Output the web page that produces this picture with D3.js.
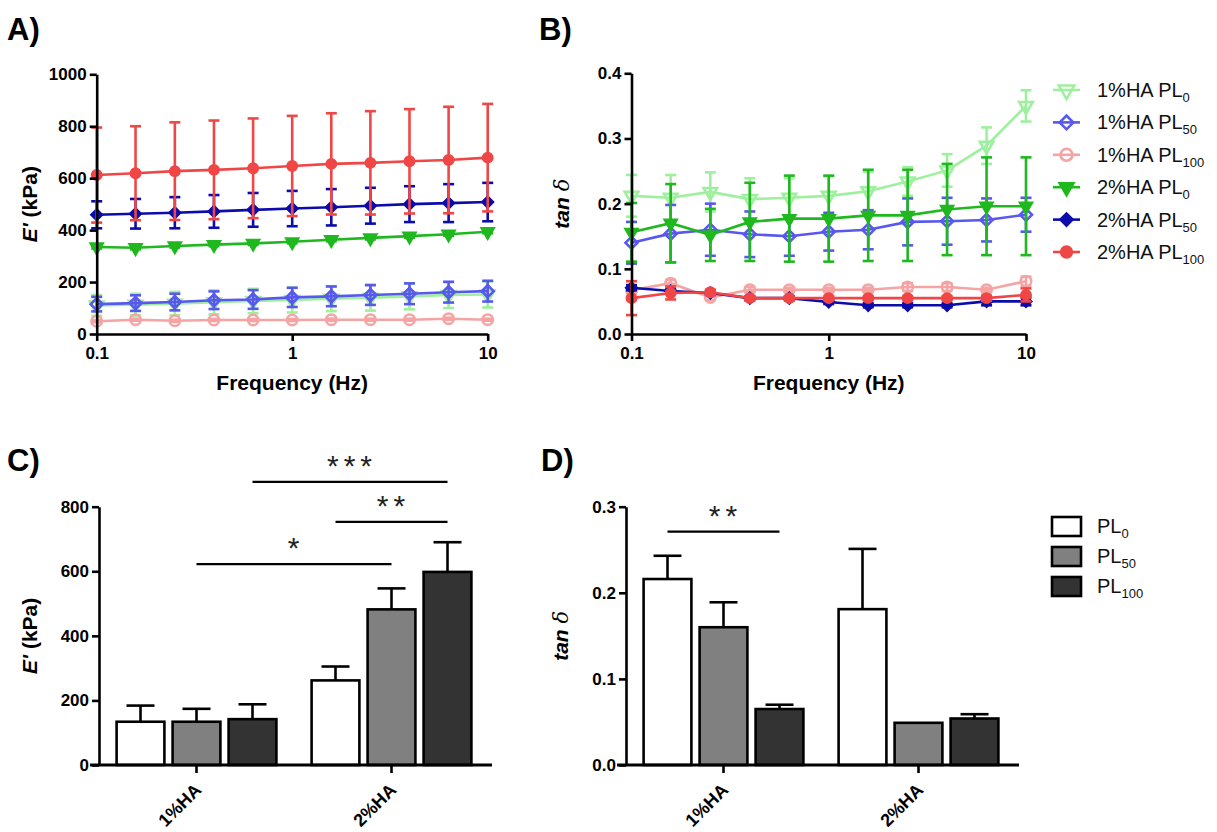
<!DOCTYPE html>
<html><head><meta charset="utf-8">
<script src="https://cdn.jsdelivr.net/npm/d3@7"></script>
<style>body{margin:0;background:#fff}svg{display:block}</style>
</head><body>
<svg id="chart" width="1217" height="832"></svg>
<script>
// ---------------- DATA ----------------
const frequency = [0.1, 0.158, 0.251, 0.398, 0.631, 1, 1.585, 2.512, 3.981, 6.31, 10];
const seriesLabels = ["1%HA PL0", "1%HA PL50", "1%HA PL100", "2%HA PL0", "2%HA PL50", "2%HA PL100"];

// Panel A: E' (kPa) mean / SD
const eMod_1HA_PL0   = [110, 113, 117, 122, 127, 131, 136, 140, 145, 150, 152];
const eModSD_1HA_PL0 = [40, 42, 45, 46, 47, 48, 48, 50, 50, 50, 50];
const eMod_1HA_PL50   = [115, 119, 123, 130, 133, 141, 145, 150, 155, 161, 165];
const eModSD_1HA_PL50 = [28, 30, 32, 34, 36, 37, 38, 38, 40, 40, 40];
const eMod_1HA_PL100   = [49, 55, 51, 54, 54, 54, 55, 55, 55, 59, 55];
const eModSD_1HA_PL100 = [4, 4, 4, 4, 4, 4, 4, 4, 4, 4, 4];
const eMod_2HA_PL0   = [335, 332, 339, 344, 349, 355, 363, 370, 377, 384, 394];
const eModSD_2HA_PL0 = [6, 6, 6, 6, 6, 6, 6, 6, 6, 6, 6];
const eMod_2HA_PL50   = [459, 463, 467, 472, 478, 483, 488, 494, 500, 504, 508];
const eModSD_2HA_PL50 = [52, 57, 60, 63, 65, 68, 70, 69, 69, 73, 74];
const eMod_2HA_PL100   = [612, 619, 627, 632, 638, 647, 655, 659, 665, 670, 679];
const eModSD_2HA_PL100 = [183, 181, 188, 190, 192, 193, 195, 199, 201, 205, 207];

// Panel B: tan delta mean / SD
const tan_1HA_PL0   = [0.212, 0.209, 0.218, 0.207, 0.209, 0.212, 0.219, 0.234, 0.251, 0.289, 0.350];
const tanSD_1HA_PL0 = [0.032, 0.035, 0.030, 0.032, 0.030, 0.030, 0.030, 0.022, 0.025, 0.028, 0.024];
const tan_1HA_PL50   = [0.140, 0.154, 0.160, 0.153, 0.150, 0.157, 0.160, 0.172, 0.173, 0.175, 0.183];
const tanSD_1HA_PL50 = [0.032, 0.044, 0.040, 0.035, 0.030, 0.029, 0.030, 0.036, 0.036, 0.033, 0.026];
const tan_1HA_PL100   = [0.067, 0.078, 0.056, 0.068, 0.068, 0.068, 0.068, 0.072, 0.072, 0.068, 0.081];
const tanSD_1HA_PL100 = [0.004, 0.005, 0.004, 0.004, 0.003, 0.003, 0.003, 0.006, 0.006, 0.003, 0.007];
const tan_2HA_PL0   = [0.156, 0.170, 0.152, 0.172, 0.177, 0.177, 0.182, 0.182, 0.191, 0.196, 0.196];
const tanSD_2HA_PL0 = [0.045, 0.060, 0.040, 0.060, 0.066, 0.066, 0.070, 0.070, 0.070, 0.075, 0.075];
const tan_2HA_PL50   = [0.071, 0.066, 0.063, 0.055, 0.055, 0.049, 0.044, 0.044, 0.044, 0.050, 0.050];
const tanSD_2HA_PL50 = [0.004, 0.003, 0.003, 0.003, 0.003, 0.003, 0.003, 0.003, 0.003, 0.006, 0.006];
const tan_2HA_PL100   = [0.055, 0.063, 0.064, 0.055, 0.055, 0.055, 0.055, 0.055, 0.055, 0.055, 0.060];
const tanSD_2HA_PL100 = [0.026, 0.010, 0.004, 0.003, 0.003, 0.003, 0.003, 0.003, 0.003, 0.004, 0.010];

// Panels C & D: bar charts
const groups = ["1%HA", "2%HA"];
const levels = ["PL0", "PL50", "PL100"];
const barE_PL0 = [134, 262],   barESD_PL0 = [50, 43];
const barE_PL50 = [134, 482],  barESD_PL50 = [40, 65];
const barE_PL100 = [142, 598], barESD_PL100 = [46, 92];
const barTan_PL0 = [0.216, 0.181],   barTanSD_PL0 = [0.027, 0.070];
const barTan_PL50 = [0.160, 0.049],  barTanSD_PL50 = [0.029, 0];
const barTan_PL100 = [0.065, 0.054], barTanSD_PL100 = [0.005, 0.005];

// significance brackets
const sigC = [
  {from: ["1%HA", "PL50"], to: ["2%HA", "PL50"], value: 622, label: "*"},
  {from: ["2%HA", "PL0"], to: ["2%HA", "PL100"], value: 753, label: "**"},
  {from: ["1%HA", "PL100"], to: ["2%HA", "PL100"], value: 877, label: "***"}
];
const sigD = [
  {from: ["1%HA", "PL0"], to: ["1%HA", "PL100"], value: 0.271, label: "**"}
];

const yTicksA = [0, 200, 400, 600, 800, 1000];
const yTicksB = [0, 0.1, 0.2, 0.3, 0.4];
const yTicksC = [0, 200, 400, 600, 800];
const yTicksD = [0, 0.1, 0.2, 0.3];
const xTicksLog = [0.1, 1, 10];

// ---------------- STYLE ----------------
const FONT = "'Liberation Sans', Arial, Helvetica, sans-serif";
const seriesColors = ["#9ef09e", "#5858ee", "#f5a3a3", "#1fb81f", "#0c0cab", "#f04646"];
const seriesShapes = ["tri", "diamond", "circle", "tri", "diamond", "circle"];
const seriesFilled = [false, false, false, true, true, true];
const barFills = ["#ffffff", "#808080", "#333333"];

const svg = d3.select("#chart");

function styleAxis(g, fs) {
  g.selectAll("path, line").attr("stroke", "#000").attr("stroke-width", 2.6);
  g.selectAll("text").attr("font-family", FONT).attr("font-size", fs || 17)
    .attr("font-weight", "bold").attr("fill", "#000");
}

function symbolPath(shape, size) {
  if (shape === "tri") return d3.symbol().type(d3.symbolTriangle).size(size)();
  if (shape === "diamond") return d3.symbol().type(d3.symbolSquare).size(size)();
  return d3.symbol().type(d3.symbolCircle).size(size)();
}
function symbolRot(shape) {
  return shape === "tri" ? 180 : (shape === "diamond" ? 45 : 0);
}

function drawMarker(g, cx, cy, i, scale) {
  const k = scale || 1;
  const shape = seriesShapes[i];
  const size = (shape === "tri" ? 80 : (shape === "diamond" ? 72 : 85)) * k;
  g.append("path")
    .attr("d", symbolPath(shape, size))
    .attr("transform", `translate(${cx},${cy}) rotate(${symbolRot(shape)})`)
    .attr("fill", seriesFilled[i] ? seriesColors[i] : "none")
    .attr("stroke", seriesColors[i])
    .attr("stroke-width", seriesFilled[i] ? 1.5 : 2.6);
}

function drawLineSeries(g, x, y, means, sds, i) {
  const col = seriesColors[i];
  const line = d3.line().x((d, k) => x(frequency[k])).y(d => y(d));
  g.append("path").datum(means).attr("d", line).attr("fill", "none")
    .attr("stroke", col).attr("stroke-width", 2.6);
  const cap = 5.5;
  means.forEach((m, k) => {
    const cx = x(frequency[k]);
    const y1 = y(m + sds[k]), y0 = y(m - sds[k]);
    g.append("line").attr("x1", cx).attr("x2", cx).attr("y1", y0).attr("y2", y1)
      .attr("stroke", col).attr("stroke-width", 2.6);
    [y0, y1].forEach(yy => g.append("line").attr("x1", cx - cap).attr("x2", cx + cap)
      .attr("y1", yy).attr("y2", yy).attr("stroke", col).attr("stroke-width", 2.6));
  });
  means.forEach((m, k) => drawMarker(g, x(frequency[k]), y(m), i));
}

function panelLabel(txt, x, y) {
  svg.append("text").attr("x", x).attr("y", y).text(txt)
    .attr("font-family", FONT).attr("font-size", 31).attr("font-weight", "bold");
}

function yTitleE(x, cy) {
  const t = svg.append("text").attr("transform", `translate(${x},${cy}) rotate(-90)`)
    .attr("text-anchor", "middle").attr("font-family", FONT).attr("font-size", 21).attr("font-weight", "bold");
  t.append("tspan").attr("font-style", "italic").text("E'");
  t.append("tspan").text(" (kPa)");
}
function yTitleTan(x, cy) {
  const t = svg.append("text").attr("transform", `translate(${x},${cy}) rotate(-90)`)
    .attr("text-anchor", "middle").attr("font-family", FONT).attr("font-size", 21);
  t.append("tspan").attr("font-style", "italic").attr("font-weight", "bold").text("tan ");
  t.append("tspan").attr("font-style", "italic").attr("font-family", "'DejaVu Serif', 'Liberation Serif', serif").text("δ");
}

// ---------------- PANEL A ----------------
panelLabel("A)", 7, 40);
const xA = d3.scaleLog().domain([0.1, 10]).range([96.7, 487.7]);
const yA = d3.scaleLinear().domain([0, 1000]).range([334, 74.3]);
const gA = svg.append("g");
const eMeans = [eMod_1HA_PL0, eMod_1HA_PL50, eMod_1HA_PL100, eMod_2HA_PL0, eMod_2HA_PL50, eMod_2HA_PL100];
const eSDs = [eModSD_1HA_PL0, eModSD_1HA_PL50, eModSD_1HA_PL100, eModSD_2HA_PL0, eModSD_2HA_PL50, eModSD_2HA_PL100];
eMeans.forEach((m, i) => drawLineSeries(gA, xA, yA, m, eSDs[i], i));
svg.append("g").attr("transform", `translate(0,${yA(0)})`)
  .call(d3.axisBottom(xA).tickValues(xTicksLog).tickFormat(d => String(d)).tickSize(7).tickSizeOuter(0).tickPadding(6))
  .call(g => styleAxis(g));
svg.append("g").attr("transform", `translate(${xA(0.1)},0)`)
  .call(d3.axisLeft(yA).tickValues(yTicksA).tickFormat(d3.format("d")).tickSize(7).tickSizeOuter(0).tickPadding(3))
  .call(g => styleAxis(g));
svg.append("text").attr("x", (xA.range()[0] + xA.range()[1]) / 2).attr("y", 390)
  .attr("text-anchor", "middle").attr("font-family", FONT).attr("font-size", 21).attr("font-weight", "bold")
  .text("Frequency (Hz)");
yTitleE(37, (yA.range()[0] + yA.range()[1]) / 2);

// ---------------- PANEL B ----------------
panelLabel("B)", 539, 40);
const xB = d3.scaleLog().domain([0.1, 10]).range([631.5, 1026]);
const yB = d3.scaleLinear().domain([0, 0.4]).range([334, 73.3]);
const gB = svg.append("g");
const tMeans = [tan_1HA_PL0, tan_1HA_PL50, tan_1HA_PL100, tan_2HA_PL0, tan_2HA_PL50, tan_2HA_PL100];
const tSDs = [tanSD_1HA_PL0, tanSD_1HA_PL50, tanSD_1HA_PL100, tanSD_2HA_PL0, tanSD_2HA_PL50, tanSD_2HA_PL100];
tMeans.forEach((m, i) => drawLineSeries(gB, xB, yB, m, tSDs[i], i));
svg.append("g").attr("transform", `translate(0,${yB(0)})`)
  .call(d3.axisBottom(xB).tickValues(xTicksLog).tickFormat(d => String(d)).tickSize(7).tickSizeOuter(0).tickPadding(6))
  .call(g => styleAxis(g));
svg.append("g").attr("transform", `translate(${xB(0.1)},0)`)
  .call(d3.axisLeft(yB).tickValues(yTicksB).tickFormat(d3.format(".1f")).tickSize(7).tickSizeOuter(0).tickPadding(3))
  .call(g => styleAxis(g));
svg.append("text").attr("x", (xB.range()[0] + xB.range()[1]) / 2).attr("y", 390)
  .attr("text-anchor", "middle").attr("font-family", FONT).attr("font-size", 21).attr("font-weight", "bold")
  .text("Frequency (Hz)");
yTitleTan(569, (yB.range()[0] + yB.range()[1]) / 2);

// legend B
const legB = svg.append("g");
seriesLabels.forEach((lab, i) => {
  const yy = 90 + i * 32.4;
  legB.append("line").attr("x1", 1053).attr("x2", 1080).attr("y1", yy).attr("y2", yy)
    .attr("stroke", seriesColors[i]).attr("stroke-width", 2.6);
  drawMarker(legB, 1066.5, yy, i, 1.3);
  const mt = lab.match(/^(.*PL)(\d+)$/);
  const t = legB.append("text").attr("x", 1097).attr("y", yy + 7)
    .attr("font-family", FONT).attr("font-size", 20).attr("fill", "#111");
  t.append("tspan").text(mt[1]);
  t.append("tspan").attr("font-size", 13).attr("dy", 5).text(mt[2]);
});

// ---------------- BAR PANELS ----------------
function barPanel(opts) {
  const {x0, x1, yScale, means, sds, ticks, fmt, sig} = opts;
  const xG = d3.scaleBand().domain(groups).range([x0, x1]);
  const xL = d3.scaleBand().domain(levels).range([13.5, 181.5]).paddingInner(0.1).paddingOuter(0.05);
  const g = svg.append("g");
  const cx = (grp, lvl) => xG(grp) + xL(lvl) + xL.bandwidth() / 2;
  levels.forEach((lvl, li) => {
    groups.forEach((grp, gi) => {
      const v = means[li][gi], sd = sds[li][gi];
      const c = cx(grp, lvl);
      if (sd > 0) {
        g.append("line").attr("x1", c).attr("x2", c).attr("y1", yScale(v)).attr("y2", yScale(v + sd))
          .attr("stroke", "#000").attr("stroke-width", 2.6);
        g.append("line").attr("x1", c - 14).attr("x2", c + 14).attr("y1", yScale(v + sd)).attr("y2", yScale(v + sd))
          .attr("stroke", "#000").attr("stroke-width", 2.6);
      }
      g.append("rect").attr("x", xG(grp) + xL(lvl) + 1.3).attr("width", xL.bandwidth() - 2.6)
        .attr("y", yScale(v)).attr("height", yScale(0) - yScale(v))
        .attr("fill", barFills[li]).attr("stroke", "#000").attr("stroke-width", 2.6);
    });
  });
  // x axis
  const y0 = yScale(0);
  g.append("line").attr("x1", x0 - 9).attr("x2", x1 + 3).attr("y1", y0).attr("y2", y0)
    .attr("stroke", "#000").attr("stroke-width", 2.8);
  groups.forEach(grp => {
    const c = xG(grp) + xG.bandwidth() / 2;
    g.append("line").attr("x1", c).attr("x2", c).attr("y1", y0).attr("y2", y0 + 8)
      .attr("stroke", "#000").attr("stroke-width", 2.6);
    g.append("text").attr("transform", `translate(${c + 6},${y0 + 26}) rotate(-45)`)
      .attr("text-anchor", "end").attr("font-family", FONT).attr("font-size", 18)
      .attr("font-weight", "bold").text(grp);
  });
  svg.append("g").attr("transform", `translate(${x0},0)`)
    .call(d3.axisLeft(yScale).tickValues(ticks).tickFormat(fmt).tickSize(7).tickSizeOuter(0).tickPadding(3))
    .call(gg => styleAxis(gg));
  // significance
  sig.forEach(s => {
    const xa = cx(s.from[0], s.from[1]), xb = cx(s.to[0], s.to[1]);
    const yy = yScale(s.value);
    g.append("line").attr("x1", xa).attr("x2", xb).attr("y1", yy).attr("y2", yy)
      .attr("stroke", "#000").attr("stroke-width", 2.2);
    g.append("text").attr("x", (xa + xb) / 2 + 2).attr("y", yy - 6).attr("text-anchor", "middle")
      .attr("font-family", FONT).attr("font-size", 30).attr("letter-spacing", 5).attr("fill", "#222")
      .text(s.label);
  });
}

// Panel C
panelLabel("C)", 7, 471);
const yC = d3.scaleLinear().domain([0, 800]).range([765, 506.7]);
barPanel({x0: 99, x1: 489, yScale: yC,
  means: [barE_PL0, barE_PL50, barE_PL100], sds: [barESD_PL0, barESD_PL50, barESD_PL100],
  ticks: yTicksC, fmt: d3.format("d"), sig: sigC});
yTitleE(37, (yC.range()[0] + yC.range()[1]) / 2);

// Panel D
panelLabel("D)", 541, 471);
const yD = d3.scaleLinear().domain([0, 0.3]).range([765, 506.7]);
barPanel({x0: 626, x1: 1016, yScale: yD,
  means: [barTan_PL0, barTan_PL50, barTan_PL100], sds: [barTanSD_PL0, barTanSD_PL50, barTanSD_PL100],
  ticks: yTicksD, fmt: d3.format(".1f"), sig: sigD});
yTitleTan(568, (yD.range()[0] + yD.range()[1]) / 2);

// legend D
const legD = svg.append("g");
levels.forEach((lvl, i) => {
  const yy = 517 + i * 30;
  legD.append("rect").attr("x", 1052).attr("y", yy).attr("width", 29).attr("height", 19)
    .attr("fill", barFills[i]).attr("stroke", "#000").attr("stroke-width", 2.6);
  const mt = lvl.match(/^(PL)(\d+)$/);
  const t = legD.append("text").attr("x", 1097).attr("y", yy + 16)
    .attr("font-family", FONT).attr("font-size", 20).attr("fill", "#111");
  t.append("tspan").text(mt[1]);
  t.append("tspan").attr("font-size", 13).attr("dy", 5).text(mt[2]);
});
</script>
</body></html>
